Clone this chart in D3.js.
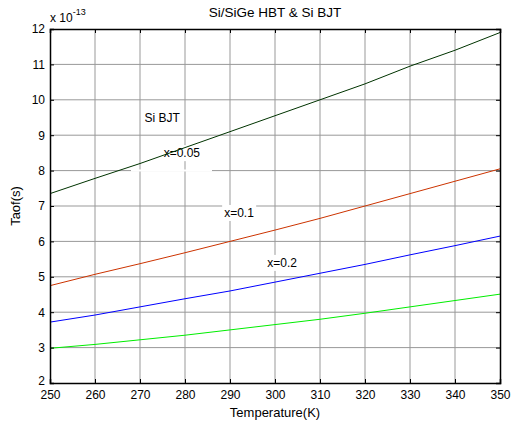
<!DOCTYPE html>
<html>
<head>
<meta charset="utf-8">
<script src="https://cdn.jsdelivr.net/npm/d3@7"></script>
<style>
body { margin: 0; background: #fff; }
text { font-family: "Liberation Sans", Arial, sans-serif; }
</style>
</head>
<body>
<script>
var width = 513,
	height = 426;

// temperature (K)
var temps = [250, 260, 270, 280, 290, 300, 310, 320, 330, 340, 350];
// Taof in units of 1e-13 s
var siBJT = [7.35, 7.78, 8.2, 8.65, 9.1, 9.55, 10.0, 10.45, 10.95, 11.4, 11.9];
var x005 = [4.75, 5.07, 5.37, 5.68, 6.0, 6.32, 6.65, 7.0, 7.35, 7.7, 8.05];
var x01 = [3.72, 3.92, 4.15, 4.38, 4.6, 4.85, 5.1, 5.35, 5.62, 5.88, 6.15];
var x02 = [2.98, 3.09, 3.22, 3.35, 3.5, 3.65, 3.8, 3.97, 4.15, 4.33, 4.51];

var xTicks = [250, 260, 270, 280, 290, 300, 310, 320, 330, 340, 350];
var yTicks = [2, 3, 4, 5, 6, 7, 8, 9, 10, 11, 12];

var margin = {left: 50, right: 13, top: 29, bottom: 43};

var x = d3.scaleLinear().domain([250, 350]).range([margin.left, width - margin.right]);
var y = d3.scaleLinear().domain([2, 12]).range([height - margin.bottom, margin.top]);

var svg = d3.select("body").append("svg")
	.attr("width", width)
	.attr("height", height);

// grid
svg.append("g").selectAll("line.vx")
	.data(xTicks.slice(1, -1))
	.enter().append("line")
	.attr("x1", function(d) { return x(d); })
	.attr("x2", function(d) { return x(d); })
	.attr("y1", y(2)).attr("y2", y(12))
	.attr("stroke", "#999").attr("stroke-width", 1);
svg.append("g").selectAll("line.hy")
	.data(yTicks.slice(1, -1))
	.enter().append("line")
	.attr("y1", function(d) { return y(d); })
	.attr("y2", function(d) { return y(d); })
	.attr("x1", x(250)).attr("x2", x(350))
	.attr("stroke", "#999").attr("stroke-width", 1);

// curve labels with white boxes, under the curves
var labels = [
	{t: "Si BJT", tx: 274.9, v: 9.38},
	{t: "x=0.05", tx: 279.3, v: 8.38},
	{t: "x=0.1", tx: 292, v: 6.69},
	{t: "x=0.2", tx: 301.6, v: 5.28}
];
labels.forEach(function(l) {
	var t = svg.append("text")
		.attr("x", x(l.tx)).attr("y", y(l.v))
		.attr("text-anchor", "middle")
		.attr("font-size", 12)
		.text(l.t);
	var b = t.node().getBBox();
	svg.insert("rect", "text")
		.attr("x", b.x - 2).attr("y", b.y - 1)
		.attr("width", b.width + 4).attr("height", b.height + 2)
		.attr("fill", "#fff");
});
// white bar under x=0.05 label (erased grid line)
svg.append("line")
	.attr("x1", x(268)).attr("x2", x(286))
	.attr("y1", y(8)).attr("y2", y(8))
	.attr("stroke", "#fff").attr("stroke-width", 2);

var line = d3.line()
	.x(function(d, i) { return x(temps[i]); })
	.y(function(d) { return y(d); });

var series = [
	{v: siBJT, c: "#003300"},
	{v: x005, c: "#cc3300"},
	{v: x01, c: "#0000ff"},
	{v: x02, c: "#00ee00"}
];
series.forEach(function(s) {
	svg.append("path")
		.attr("d", line(s.v))
		.attr("fill", "none")
		.attr("stroke", s.c)
		.attr("stroke-width", 1);
});

// axes box
var xb = svg.append("g").attr("transform", "translate(0," + y(2) + ")")
	.call(d3.axisBottom(x).tickValues(xTicks).tickSize(-4).tickPadding(7));
var xt = svg.append("g").attr("transform", "translate(0," + y(12) + ")")
	.call(d3.axisTop(x).tickValues(xTicks).tickSize(-4).tickFormat(""));
var yl = svg.append("g").attr("transform", "translate(" + x(250) + ",0)")
	.call(d3.axisLeft(y).tickValues(yTicks).tickSize(-4).tickPadding(5));
var yr = svg.append("g").attr("transform", "translate(" + x(350) + ",0)")
	.call(d3.axisRight(y).tickValues(yTicks).tickSize(-4).tickFormat(""));

[xb, xt, yl, yr].forEach(function(a) {
	a.select(".domain").attr("stroke", "#000").attr("stroke-width", 1.5);
	a.selectAll(".tick line").attr("stroke", "#000");
	a.selectAll("text").attr("font-size", 12).attr("fill", "#000")
		.attr("font-family", "Liberation Sans, Arial, sans-serif");
});
// lift the bottom "2" a little, like the matlab figure
yl.selectAll(".tick text").filter(function(d) { return d === 2; })
	.attr("dy", "0.1em");

// exponent
var ex = svg.append("text").attr("x", 50).attr("y", 22).attr("font-size", 12);
ex.append("tspan").text("x 10");
ex.append("tspan").attr("dy", -7).attr("font-size", 9).text("-13");

svg.append("text")
	.attr("x", (x(250) + x(350)) / 2).attr("y", 17)
	.attr("text-anchor", "middle").attr("font-size", 13.5)
	.text("Si/SiGe HBT & Si BJT");

svg.append("text")
	.attr("x", (x(250) + x(350)) / 2).attr("y", 417)
	.attr("text-anchor", "middle").attr("font-size", 13)
	.text("Temperature(K)");

svg.append("text")
	.attr("transform", "translate(20," + y(7) + ")rotate(-90)")
	.attr("text-anchor", "middle").attr("font-size", 13)
	.text("Taof(s)");
</script>
</body>
</html>
